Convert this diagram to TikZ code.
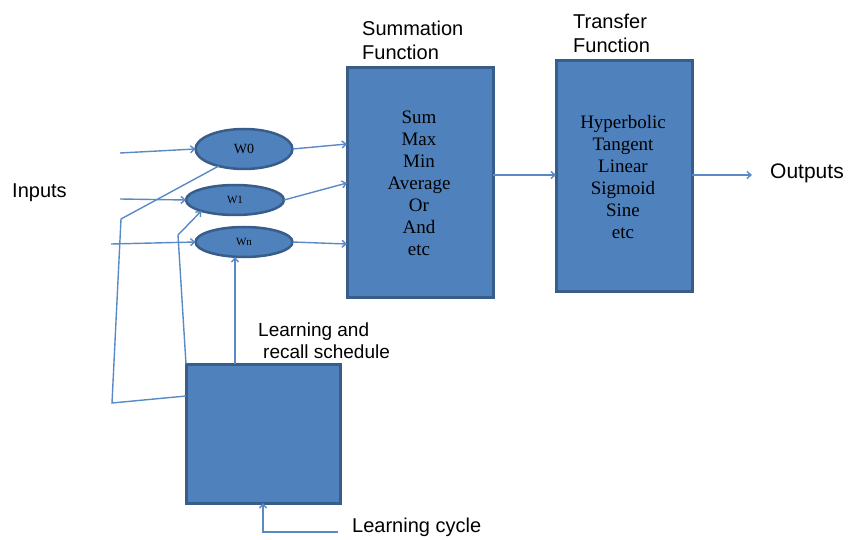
\documentclass[tikz,border=0pt]{standalone}
\usepackage{fontspec}
\setmainfont{Liberation Serif}
\setsansfont{Liberation Sans}
\usetikzlibrary{arrows.meta,shapes.geometric}
\definecolor{boxfill}{HTML}{4F81BD}
\definecolor{boxedge}{HTML}{385D8A}
\definecolor{linec}{HTML}{5A8AC6}
\begin{document}
\begin{tikzpicture}[x=1pt,y=-1pt,
  blk/.style={draw=boxedge, line width=3pt, fill=boxfill, inner sep=0pt, outer sep=0pt},
  wt/.style={ellipse, draw=boxedge, line width=2.5pt, fill=boxfill, inner sep=0pt, outer sep=0pt},
  conn/.style={draw=linec, line width=1.4pt, -{Straight Barb[length=4pt,width=7pt]}},
  plainline/.style={draw=linec, line width=1.4pt},
  lbl/.style={font=\sffamily\fontsize{20}{24}\selectfont, text=black, inner sep=0pt, align=left},
  boxtxt/.style={font=\fontsize{19}{22}\selectfont, align=center, inner sep=0pt, text=black}
]
\useasboundingbox (0,0) rectangle (854,540);

% boxes
\node[blk, minimum width=146, minimum height=229] (sum) at (420,182.5) {};
\node[blk, minimum width=136, minimum height=230] (tr) at (624,176) {};
\node[blk, minimum width=154, minimum height=139] (learn) at (263,433.5) {};

\node[boxtxt] (sumtxt) at (419,183) {Sum\\Max\\Min\\Average\\Or\\And\\etc};
\node[boxtxt] (trtxt) at (623,177) {Hyperbolic\\Tangent\\Linear\\Sigmoid\\Sine\\etc};

% weights
\node[wt, minimum width=97, minimum height=40, font=\fontsize{14}{14}\selectfont] (w0) at (244,149) {W0};
\node[wt, minimum width=98, minimum height=30, font=\fontsize{11}{11}\selectfont] (w1) at (235,200) {W1};
\node[wt, minimum width=97, minimum height=30, font=\fontsize{11}{11}\selectfont] (wn) at (244,242) {Wn};

% labels
\node[lbl, anchor=west] (sumlbl) at (362,40) {Summation\\Function};
\node[lbl, anchor=west] (trlbl) at (573,33) {Transfer\\Function};
\node[lbl, anchor=west] (inputs) at (12,193) {Inputs};
\node[lbl, anchor=west, font=\sffamily\fontsize{21}{24}\selectfont] (outputs) at (770,173) {Outputs};
\node[lbl, anchor=west, font=\sffamily\fontsize{19}{22}\selectfont] (lrs) at (258,341) {Learning and\\\hspace*{5pt}recall schedule};
\node[lbl, anchor=west] (lc) at (352,527) {Learning cycle};

% input connectors
\coordinate (i0) at (120,153);
\coordinate (i1) at (120,199);
\coordinate (i2) at (111,244);
\draw[conn] (i0) -- (w0.west);
\draw[conn] (i1) -- (w1.west);
\draw[conn] (i2) -- (wn.west);

% weights to summation
\draw[conn] (w0.east) -- (sum.west |- 0,144);
\draw[conn] (w1.east) -- (sum.west |- 0,183);
\draw[conn] (wn.east) -- (sum.west |- 0,244);

% summation -> transfer -> outputs
\draw[conn] (sum.east |- 0,175) -- (tr.west |- 0,175);
\coordinate (oend) at (752,175);
\draw[conn] (tr.east |- 0,175) -- (oend);

% learning box to Wn
\draw[conn] (learn.north -| 235,0) -- (wn.south -| 235,0);

% learning cycle
\coordinate (lcs) at (338,532);
\draw[conn] (lcs) -| (learn.south);

% feedback lines
\coordinate (fa) at (112,403);
\coordinate (fb) at (121,219);
\draw[plainline] (learn.west |- 0,396) -- (fa) -- (fb) -- (w0.214);
\coordinate (fc) at (178,235);
\draw[conn] (learn.north west) -- (fc) -- (w1.198);
\end{tikzpicture}
\end{document}
